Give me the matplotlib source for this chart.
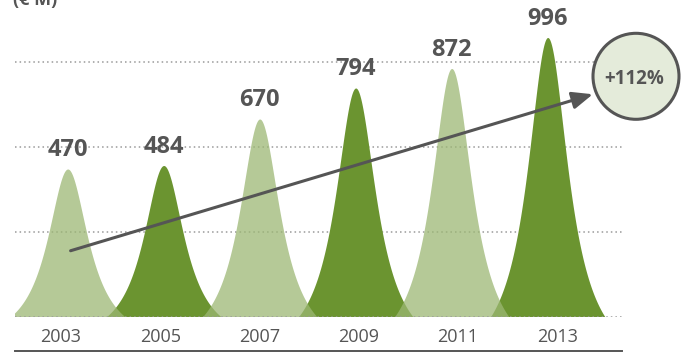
import numpy as np
import matplotlib
matplotlib.use("Agg")
import matplotlib.pyplot as plt
from matplotlib.patches import Circle
from matplotlib.lines import Line2D

# Revenue by year (€ M)
years = ["2003", "2005", "2007", "2009", "2011", "2013"]
values = [470, 484, 670, 794, 872, 996]
growth_label = "+112%"
unit_label = "(€ M)"

DARK = "#6b9430"
LIGHT = "#9cb774"
GREY = "#555555"
DOT = "#9a9a9a"

plt.rcParams["font.family"] = ["Open Sans", "DejaVu Sans"]

W, H = 686, 352
fig = plt.figure(figsize=(W / 100, H / 100), dpi=100)
ax = fig.add_axes([15 / W, 35.5 / H, 607 / W, 316.5 / H])

base = -120          # value level of the baseline
ymax = base + 316.5 / 0.25
ax.set_xlim(-0.549, 5.774)
ax.set_ylim(base, ymax)

# bell-shaped peak profile (truncated Lorentzian)
w, c = 0.262, 0.594


def profile(d):
    L = 1.0 / (1.0 + (d / w) ** 2)
    Lc = 1.0 / (1.0 + (c / w) ** 2)
    return np.clip((L - Lc) / (1.0 - Lc), 0, None)


d = np.linspace(-c, c, 600)
for i, v in enumerate(values):
    dark = i % 2 == 1
    ax.fill_between(d + i, base, base + (v - base) * profile(d),
                    color=DARK if dark else LIGHT,
                    alpha=1.0 if dark else 0.75,
                    lw=0, zorder=3 if dark else 4)
    ax.annotate(f"{v}", xy=(i, v), xytext=(0, 13.5), textcoords="offset points",
                ha="center", va="center", fontsize=17, fontweight="bold",
                color=GREY, zorder=6)

# dotted guide lines
for gy in [base + 340, base + 680, base + 1020]:
    ax.axhline(gy, color=DOT, lw=1.1, ls=(0, (1, 2)), zorder=1)
ax.axhline(base, color=DOT, lw=1.1, ls=(0, (1, 2)), zorder=5)

# growth arrow
ax.annotate("", xy=(5.47, 769), xytext=(0.03, 143),
            arrowprops=dict(arrowstyle="-|>,head_length=0.62,head_width=0.26",
                            mutation_scale=20, lw=2.2, color=GREY,
                            shrinkA=0, shrinkB=0), zorder=7)

# growth badge
circ = Circle((636 / 100, (H - 76.3) / 100), 0.43, transform=fig.dpi_scale_trans,
              facecolor="#e4ebda", edgecolor=GREY, lw=2.2, zorder=8, clip_on=False)
ax.add_patch(circ)
fig.text(634 / W, (H - 79) / H, growth_label, ha="center", va="center",
         fontsize=13.5, fontweight="bold", color=GREY, zorder=9)

# year labels
ax.set_xticks(np.arange(len(years)) * 1.034 - 0.07)
ax.set_xticklabels(years, fontsize=13, color=GREY)
ax.tick_params(axis="x", length=0, pad=8)
ax.set_yticks([])
for s in ax.spines.values():
    s.set_visible(False)

# unit label and bottom rule
fig.text(13 / W, (H - 5) / H, unit_label, ha="left", va="baseline",
         fontsize=13, fontweight="bold", color=GREY)
fig.add_artist(Line2D([15 / W, 622 / W], [1.5 / H, 1.5 / H], color=GREY, lw=1.4))

fig.savefig("out.png", dpi=100)
